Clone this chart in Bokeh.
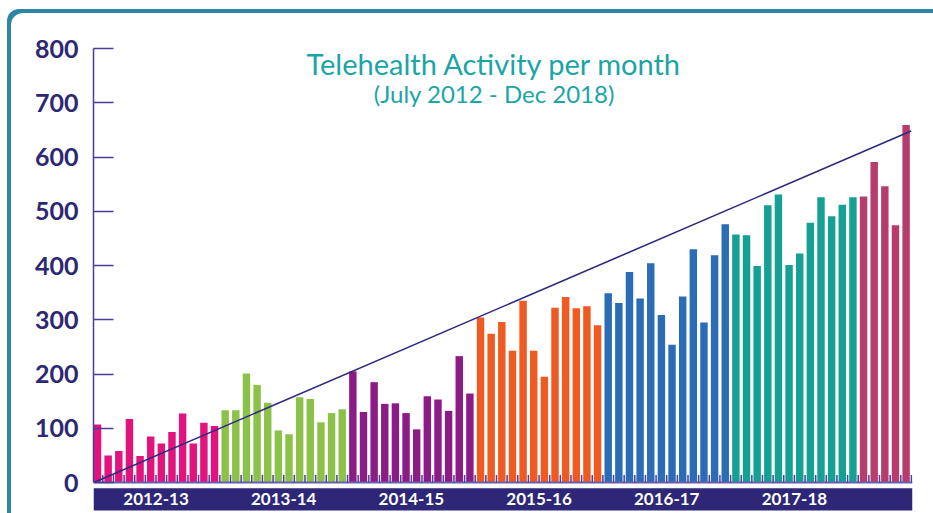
from bokeh.plotting import figure
from bokeh.models import ColumnDataSource, FixedTicker, Label, Range1d
from bokeh.core.properties import value
from bokeh.embed import file_html
from bokeh.resources import INLINE

# ---- data ----
fy_labels = ["2012-13", "2013-14", "2014-15", "2015-16", "2016-17", "2017-18", "2018-19"]
fy_colors = ["#e2127e", "#8cc24a", "#8c1c85", "#ef5a22", "#2a6cb6", "#14a093", "#b73c6e"]
activity_2012_13 = [107, 50, 58, 117, 49, 85, 72, 93, 127, 72, 110, 104]
activity_2013_14 = [133, 133, 201, 180, 147, 96, 89, 157, 154, 111, 128, 135]
activity_2014_15 = [205, 130, 185, 145, 146, 128, 98, 159, 153, 132, 233, 164]
activity_2015_16 = [304, 274, 296, 243, 335, 243, 195, 322, 342, 321, 325, 290]
activity_2016_17 = [349, 331, 388, 339, 404, 309, 254, 343, 430, 295, 419, 476]
activity_2017_18 = [457, 456, 399, 511, 531, 401, 422, 479, 526, 491, 512, 526]
activity_2018_19 = [527, 591, 546, 474, 659]
band_labels = ["2012-13", "2013-14", "2014-15", "2015-16", "2016-17", "2017-18"]
y_ticks = [0, 100, 200, 300, 400, 500, 600, 700, 800]
trend_values = [0, 648]

series = [activity_2012_13, activity_2013_14, activity_2014_15, activity_2015_16,
          activity_2016_17, activity_2017_18, activity_2018_19]

xs, tops, cols = [], [], []
seg_centers = {}
i = 0
for lab, col, vals in zip(fy_labels, fy_colors, series):
    start = i
    for v in vals:
        xs.append(i)
        tops.append(v)
        cols.append(col)
        i += 1
    seg_centers[lab] = (start + i - 1) / 2
n = len(xs)

NAVY = "#2c2872"
TEAL = "#1ba5a6"

x0, x1 = -0.376, 76.6
p = figure(width=926, height=504, output_backend="svg", toolbar_location=None,
           x_range=Range1d(x0, x1), y_range=Range1d(-57.1, 871.9),
           x_axis_location=None, min_border_left=86, min_border_right=21,
           min_border_top=0, min_border_bottom=0,
           styles={"margin-left": "7px", "margin-top": "9px",
                   "box-shadow": "inset 4px 4px 0 0 #2d86a8",
                   "border-top-left-radius": "12px"})
p.outline_line_color = None
p.grid.visible = False
p.background_fill_color = None
p.border_fill_color = None

src = ColumnDataSource(dict(x=xs, top=tops, color=cols))
p.vbar(x="x", top="top", bottom=0, width=0.7, fill_color="color", line_color=None, source=src)

# baseline with small separators
p.segment(x0=[x0], y0=[0], x1=[x1], y1=[0], line_color="#6a5fb0", line_width=2)
bx = [k - 0.5 for k in range(n + 1)]
p.segment(x0=bx, y0=[0] * len(bx), x1=bx, y1=[14] * len(bx), line_color="#4b3f9a", line_width=1.5)

# trend line
p.line(x=[-0.35, n - 1 + 0.47], y=trend_values, line_color="#2e2a80", line_width=1.6)

# bottom band with year labels
p.quad(left=[x0], right=[x1], bottom=[-51.6], top=[-10.5], fill_color="#2e2778", line_color=None)
p.text(x=[seg_centers[l] for l in band_labels], y=[-30.3] * len(band_labels), text=band_labels,
       text_color="white", text_font=value("Lato"), text_font_style="bold",
       text_font_size="17px", text_align="center", text_baseline="middle")

# titles
p.add_layout(Label(x=37.3, y=771.8, text="Telehealth Activity per month", text_color=TEAL,
                   text_font="Lato", text_font_size="29px", text_align="center",
                   text_baseline="alphabetic"))
p.add_layout(Label(x=37.3, y=716.5, text="(July 2012 - Dec 2018)", text_color=TEAL,
                   text_font="Lato", text_font_size="24px", text_align="center",
                   text_baseline="alphabetic"))

# y axis
ax = p.yaxis[0]
ax.ticker = FixedTicker(ticks=y_ticks)
ax.bounds = (0, 800)
ax.major_tick_in = 20
ax.major_tick_out = 0
ax.minor_tick_line_color = None
ax.axis_line_color = "#4a3f93"
ax.axis_line_width = 1.5
ax.major_tick_line_color = "#4a3f93"
ax.major_tick_line_width = 1.5
ax.major_label_standoff = 15
ax.major_label_text_font = "Lato"
ax.major_label_text_font_style = "bold"
ax.major_label_text_font_size = "25px"
ax.major_label_text_color = NAVY

open("out.html", "w").write(file_html(p, INLINE))
